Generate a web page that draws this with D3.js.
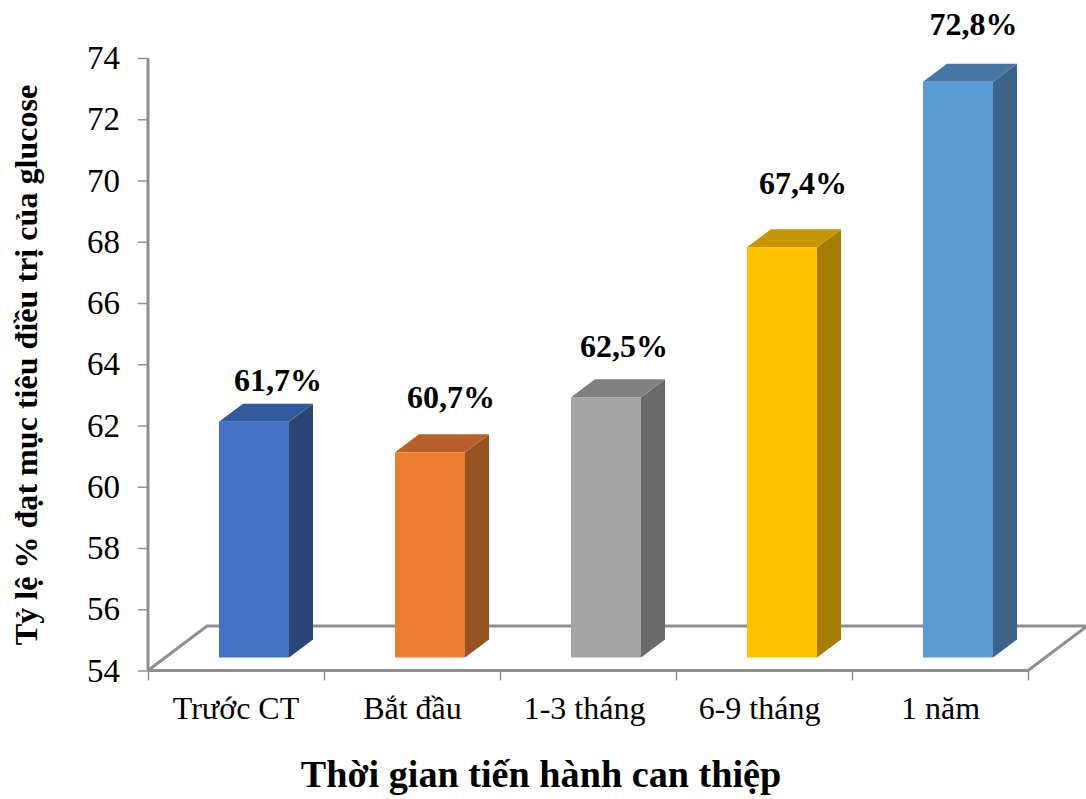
<!DOCTYPE html>
<html><head><meta charset="utf-8">
<script src="https://cdn.jsdelivr.net/npm/d3@7"></script>
<style>html,body{margin:0;padding:0;background:#fff}svg{display:block}text{font-family:"Liberation Serif",serif;fill:#000}</style>
</head><body><svg id="c" width="1086" height="799"></svg>
<script>
const categories = ["Trước CT","Bắt đầu","1-3 tháng","6-9 tháng","1 năm"];
const values = [61.7,60.7,62.5,67.4,72.8];
const valueLabels = ["61,7%","60,7%","62,5%","67,4%","72,8%"];
const yTicks = [54,56,58,60,62,64,66,68,70,72,74];
const frontColors = ["#4472C4","#ED7D31","#A5A5A5","#FFC000","#5B9BD5"];
const sideColors = ["#2A4677","#985322","#6A6A6A","#A67D00","#3A6488"];
const topColors = ["#335A9E","#B9602A","#808080","#C69500","#4577A6"];
const labelDx = [24,21,18,21,15.5];
const labelDy = [-31,-44,-40,-53,-47];
const categoryDx = [0,0.5,-3.5,-4.5,0.5];

const svg = d3.select("#c");
const grey = "#8f8f8f";
const L=148,R=1028,B=670.5,T=58;
const y = d3.scaleLinear().domain([54,74]).range([B,T]);
const step = (R-L)/categories.length;

// floor
const fdx=59, fdy=-44.5;
svg.append("path").attr("fill","none").attr("stroke",grey).attr("stroke-width",3)
  .attr("d",d3.line()([[L,B],[L+fdx,B+fdy],[R+fdx,B+fdy],[R,B]]));

// axes
const yAxis = d3.axisLeft(y).tickValues(yTicks).tickSize(10).tickPadding(18);
const gy = svg.append("g").attr("transform",`translate(${L},0)`).call(yAxis);
gy.select(".domain").attr("stroke",grey).attr("stroke-width",3).attr("d",`M0,${T}V${B}`);
gy.selectAll("line").attr("stroke",grey).attr("stroke-width",1.5);
gy.selectAll("text").attr("font-size",33).attr("font-family","Liberation Serif").attr("fill","#000");

const xAxis = d3.axisBottom(d3.scaleLinear().domain([0,categories.length]).range([L,R]))
  .ticks(categories.length).tickSize(10).tickFormat("");
const gx = svg.append("g").attr("transform",`translate(0,${B})`).call(xAxis);
gx.select(".domain").attr("stroke",grey).attr("stroke-width",3).attr("d",`M${L},0H${R}`);
gx.selectAll("line").attr("stroke",grey).attr("stroke-width",1.5);

// bars
const bdx=24, bdy=-18, lift=13;
const gBars = svg.selectAll("g.bar").data(categories).join("g").attr("class","bar");
gBars.each(function(c,i){
  const g=d3.select(this);
  const x0=L+step*i+step/2+18-35.5+0.5, x1=x0+70;
  const yt=y(values[i])-lift, yb=y(54)-lift;
  g.append("path").attr("fill",sideColors[i]).attr("d",d3.line()([[x1,yt],[x1+bdx,yt+bdy],[x1+bdx,yb+bdy],[x1,yb]])+"Z");
  g.append("path").attr("fill",topColors[i]).attr("d",d3.line()([[x0,yt],[x0+bdx,yt+bdy],[x1+bdx,yt+bdy],[x1,yt]])+"Z");
  g.append("rect").attr("fill",frontColors[i]).attr("x",x0).attr("y",yt).attr("width",x1-x0).attr("height",yb-yt);
  g.append("text").text(valueLabels[i]).attr("text-anchor","middle").attr("font-weight","bold").attr("font-size",32)
    .attr("x",(x0+x1)/2+labelDx[i]).attr("y",yt+labelDy[i]);
  g.append("text").text(c).attr("text-anchor","middle").attr("font-size",32)
    .attr("x",L+step*i+step/2+categoryDx[i]).attr("y",719);
});

svg.append("text").text("Thời gian tiến hành can thiệp").attr("text-anchor","middle")
  .attr("font-weight","bold").attr("font-size",38.2).attr("x",541).attr("y",787);
svg.append("text").text("Tỷ lệ % đạt mục tiêu điều trị của glucose").attr("text-anchor","middle")
  .attr("font-weight","bold").attr("font-size",32.1)
  .attr("transform","translate(37,365) rotate(-90)");
</script></body></html>
